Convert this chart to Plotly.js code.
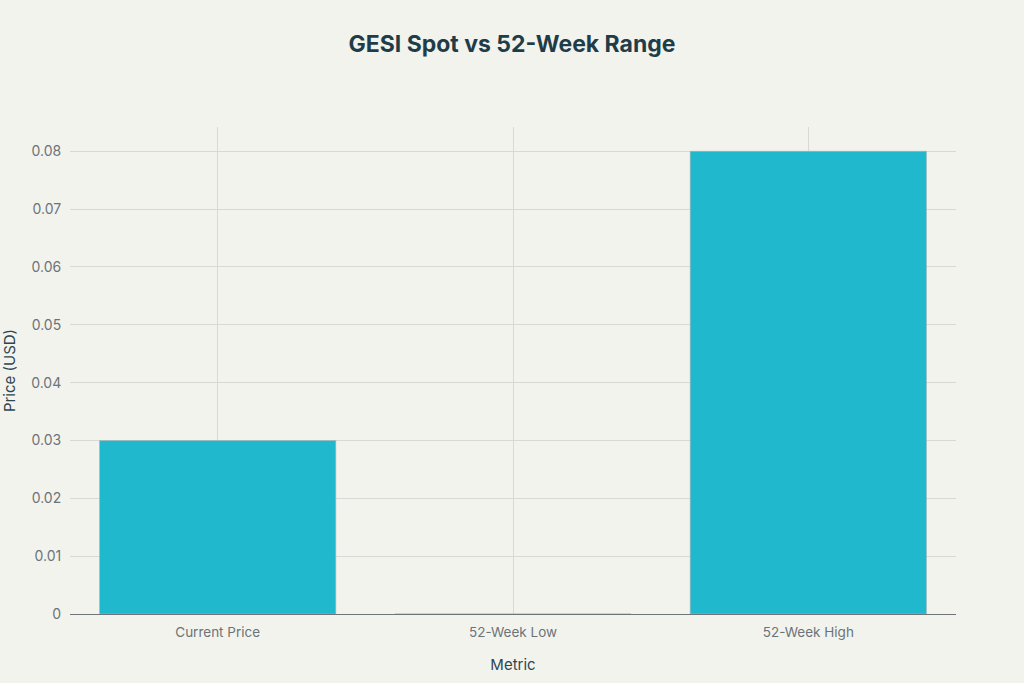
<!DOCTYPE html>
<html>
<head>
<meta charset="utf-8">
<script src="https://cdn.plot.ly/plotly-3.0.1.min.js"></script>
<style>
  html, body { margin: 0; padding: 0; background: #f3f3ee; }
  #chart { width: 1024px; height: 683px; }
</style>
</head>
<body>
<div id="chart"></div>
<script>
var metrics = ['Current Price', '52-Week Low', '52-Week High'];
var prices = [0.03, 0, 0.08];

var data = [{
  type: 'bar',
  x: metrics,
  y: prices,
  marker: { color: '#1fb8cd', line: { color: '#a9b3b6', width: 0.6 } },
  width: 0.8,
  hoverinfo: 'x+y'
}];

var layout = {
  width: 1024,
  height: 683,
  paper_bgcolor: '#f3f3ee',
  plot_bgcolor: '#f3f3ee',
  font: { family: 'Inter, "Open Sans", sans-serif', size: 13.5, color: '#6b7378' },
  title: {
    text: '<b>GESI Spot vs 52-Week Range</b>',
    x: 0.5,
    y: 0.948,
    xanchor: 'center',
    font: { size: 23, color: '#1f3d48' }
  },
  margin: { t: 127, b: 69, l: 70, r: 68, pad: 0 },
  xaxis: {
    title: { text: 'Metric', font: { size: 15, color: '#2e4650' }, standoff: 20 },
    showgrid: true,
    gridcolor: '#d8d9d5',
    showline: true,
    linecolor: '#6e7478',
    linewidth: 1,
    ticks: 'outside',
    ticklen: 6,
    tickcolor: 'rgba(0,0,0,0)',
    tickfont: { size: 13.5, color: '#6b7378' }
  },
  yaxis: {
    title: { text: 'Price (USD)', font: { size: 15, color: '#2e4650' }, standoff: 12 },
    range: [0, 0.0842],
    dtick: 0.01,
    showgrid: true,
    gridcolor: '#d8d9d5',
    zeroline: false,
    ticks: 'outside',
    ticklen: 5,
    tickcolor: 'rgba(0,0,0,0)',
    tickfont: { size: 14, color: '#6b7378' }
  },
  showlegend: false,
  bargap: 0.2
};

Plotly.newPlot('chart', data, layout, { displayModeBar: false, staticPlot: true });
</script>
</body>
</html>
